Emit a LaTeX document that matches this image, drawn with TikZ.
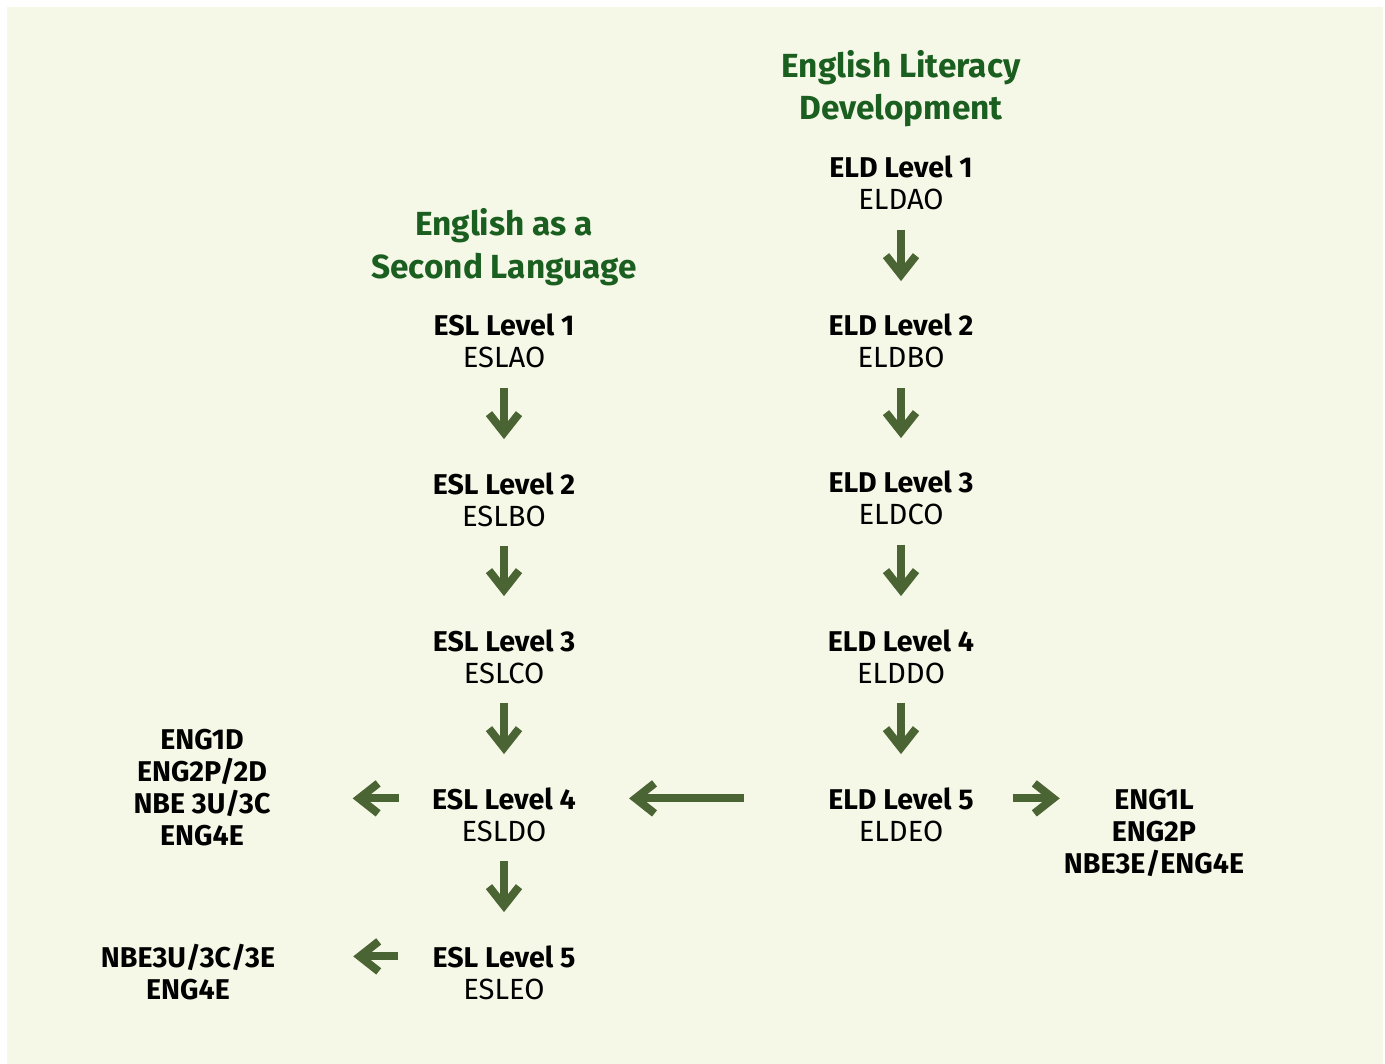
\documentclass[tikz,border=0pt]{standalone}
\usepackage{fontspec}
\setmainfont{Fira Sans}
\usetikzlibrary{arrows.meta}
\definecolor{bgcol}{RGB}{245,248,231}
\definecolor{titlecol}{RGB}{26,94,32}
\definecolor{arrcol}{RGB}{75,100,52}
\tikzset{
  x=1pt,y=-1pt,
  lbl/.style={inner sep=0pt,anchor=base,font=\fontsize{28.6pt}{31pt}\selectfont\bfseries},
  code/.style={inner sep=0pt,anchor=base,font=\fontsize{29.2pt}{31pt}\selectfont},
  ttl/.style={inner sep=0pt,anchor=base,text=titlecol,font=\fontsize{33.4pt}{36pt}\selectfont\bfseries},
  arr/.style={draw=arrcol,line width=8pt,-{Straight Barb[length=19pt,width=30pt]}},
}
\begin{document}
\begin{tikzpicture}
\useasboundingbox (0,0) rectangle (1385,1064);
\fill[bgcol] (7,7) rectangle (1383,1064);
% titles
\node[ttl] (eldt1) at (901,78) {English Literacy};
\node[ttl] (eldt2) at (901,120) {Development};
\node[ttl] (eslt1) at (504,236) {English as a};
\node[ttl] (eslt2) at (504,279) {Second Language};
% ELD column
\node[lbl] (eld1) at (901,178) {ELD Level 1};
\node[code] (eld1c) at (901,210) {ELDAO};
\node[lbl] (eld2) at (901,336) {ELD Level 2};
\node[code] (eld2c) at (901,368) {ELDBO};
\node[lbl] (eld3) at (901,493) {ELD Level 3};
\node[code] (eld3c) at (901,525) {ELDCO};
\node[lbl] (eld4) at (901,651) {ELD Level 4};
\node[code] (eld4c) at (901,683) {ELDDO};
\node[lbl] (eld5) at (901,809) {ELD Level 5};
\node[code] (eld5c) at (901,841) {ELDEO};
% ESL column
\node[lbl] (esl1) at (504,336) {ESL Level 1};
\node[code] (esl1c) at (504,368) {ESLAO};
\node[lbl] (esl2) at (504,494) {ESL Level 2};
\node[code] (esl2c) at (504,526) {ESLBO};
\node[lbl] (esl3) at (504,651) {ESL Level 3};
\node[code] (esl3c) at (504,683) {ESLCO};
\node[lbl] (esl4) at (504,809) {ESL Level 4};
\node[code] (esl4c) at (504,841) {ESLDO};
\node[lbl] (esl5) at (504,967) {ESL Level 5};
\node[code] (esl5c) at (504,999) {ESLEO};
% outcome blocks
\node[lbl] (a1) at (202,749) {ENG1D};
\node[lbl] (a2) at (202,781) {ENG2P/2D};
\node[lbl] (a3) at (202,813) {NBE 3U/3C};
\node[lbl] (a4) at (202,845) {ENG4E};
\node[lbl] (b1) at (188,967) {NBE3U/3C/3E};
\node[lbl] (b2) at (188,999) {ENG4E};
\node[lbl] (c1) at (1154,809) {ENG1L};
\node[lbl] (c2) at (1154,841) {ENG2P};
\node[lbl] (c3) at (1154,873) {NBE3E/ENG4E};
% vertical arrows
\foreach \p/\q in {eld1c/eld2,eld2c/eld3,eld3c/eld4,eld4c/eld5,esl1c/esl2,esl2c/esl3,esl3c/esl4,esl4c/esl5}
  \draw[arr,shorten <=19pt,shorten >=33pt] (\p.south) -- (\q.north);
% horizontal arrows (at the height of the first line)
\draw[arr,shorten <=33pt,shorten >=82pt] (esl4.west) -- (esl4.west -| a3.east);
\draw[arr,shorten <=84pt,shorten >=53pt] (eld5.west) -- (esl4.east);
\draw[arr,shorten <=39pt,shorten >=4pt] (eld5.east) -- (eld5.east -| c3.west);
\draw[arr,shorten <=34pt,shorten >=78pt] (esl5.west) -- (esl5.west -| b1.east);
\end{tikzpicture}
\end{document}
